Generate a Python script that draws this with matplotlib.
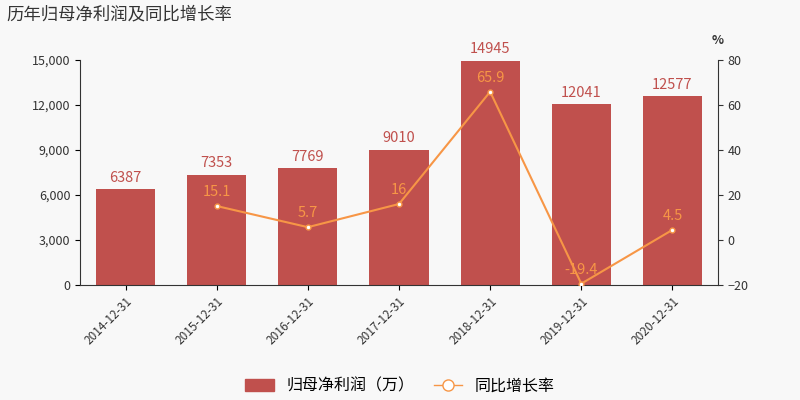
import matplotlib
matplotlib.use("Agg")
import matplotlib.pyplot as plt
from matplotlib.lines import Line2D
from matplotlib.patches import Patch

plt.rcParams['font.family'] = ['Noto Sans CJK SC', 'DejaVu Sans']

dates = ["2014-12-31","2015-12-31","2016-12-31","2017-12-31","2018-12-31","2019-12-31","2020-12-31"]
profit = [6387, 7353, 7769, 9010, 14945, 12041, 12577]
growth = [None, 15.1, 5.7, 16, 65.9, -19.4, 4.5]

bar_c = '#c0504d'
line_c = '#f79646'
bg = '#f8f8f8'

fig = plt.figure(figsize=(8, 4), dpi=100, facecolor=bg)
ax = fig.add_axes([0.1, 0.2875, 0.7975, 0.5625], facecolor=bg)
x = list(range(len(dates)))
ax.bar(x, profit, width=0.65, color=bar_c)
ax.set_ylim(0, 15000)
ax.set_yticks(range(0, 15001, 3000))
ax.set_yticklabels([f"{v:,}" for v in range(0, 15001, 3000)], fontsize=9, color='#333333')
ax.set_xlim(-0.5, len(dates) - 0.5)
ax.set_xticks(x)
ax.set_xticklabels(dates, rotation=45, ha='right', rotation_mode='anchor', fontsize=8.5, color='#333333')
for i, v in enumerate(profit):
    ax.text(i, v + 300, str(v), ha='center', va='bottom', fontsize=10.5, color=bar_c)
for s in ['top', 'right']:
    ax.spines[s].set_visible(False)
ax.spines['left'].set_color('#333333')
ax.spines['bottom'].set_color('#333333')

ax2 = ax.twinx()
gx = [i for i, g in enumerate(growth) if g is not None]
gy = [g for g in growth if g is not None]
ax2.plot(gx, gy, color=line_c, lw=1.5, marker='o', ms=3.5, mfc='white', mec=line_c, zorder=5)
ax2.set_ylim(-20, 80)
ax2.set_yticks(range(-20, 81, 20))
ax2.tick_params(labelsize=9, colors='#333333')
for s in ['top', 'left', 'bottom']:
    ax2.spines[s].set_visible(False)
ax2.spines['right'].set_color('#333333')
for i, g in zip(gx, gy):
    ax2.text(i, g + 3, f"{g:g}", ha='center', va='bottom', fontsize=10.5, color=line_c)
ax2.text(1.0, 1.06, '%', transform=ax2.transAxes, ha='center', va='bottom', fontsize=9, fontweight='bold', color='#333333')

fig.text(0.008, 0.965, '历年归母净利润及同比增长率', fontsize=12.5, color='#333333', va='center', ha='left')

handles = [Patch(color=bar_c), Line2D([0], [0], color=line_c, marker='o', mfc='white', ms=8, lw=1)]
fig.legend(handles, ['归母净利润（万）', '同比增长率'], loc='center', bbox_to_anchor=(0.5, 0.035),
           ncol=2, frameon=False, fontsize=11.5, handlelength=1.8, columnspacing=1.2)

fig.savefig('out.png', dpi=100, facecolor=bg)
